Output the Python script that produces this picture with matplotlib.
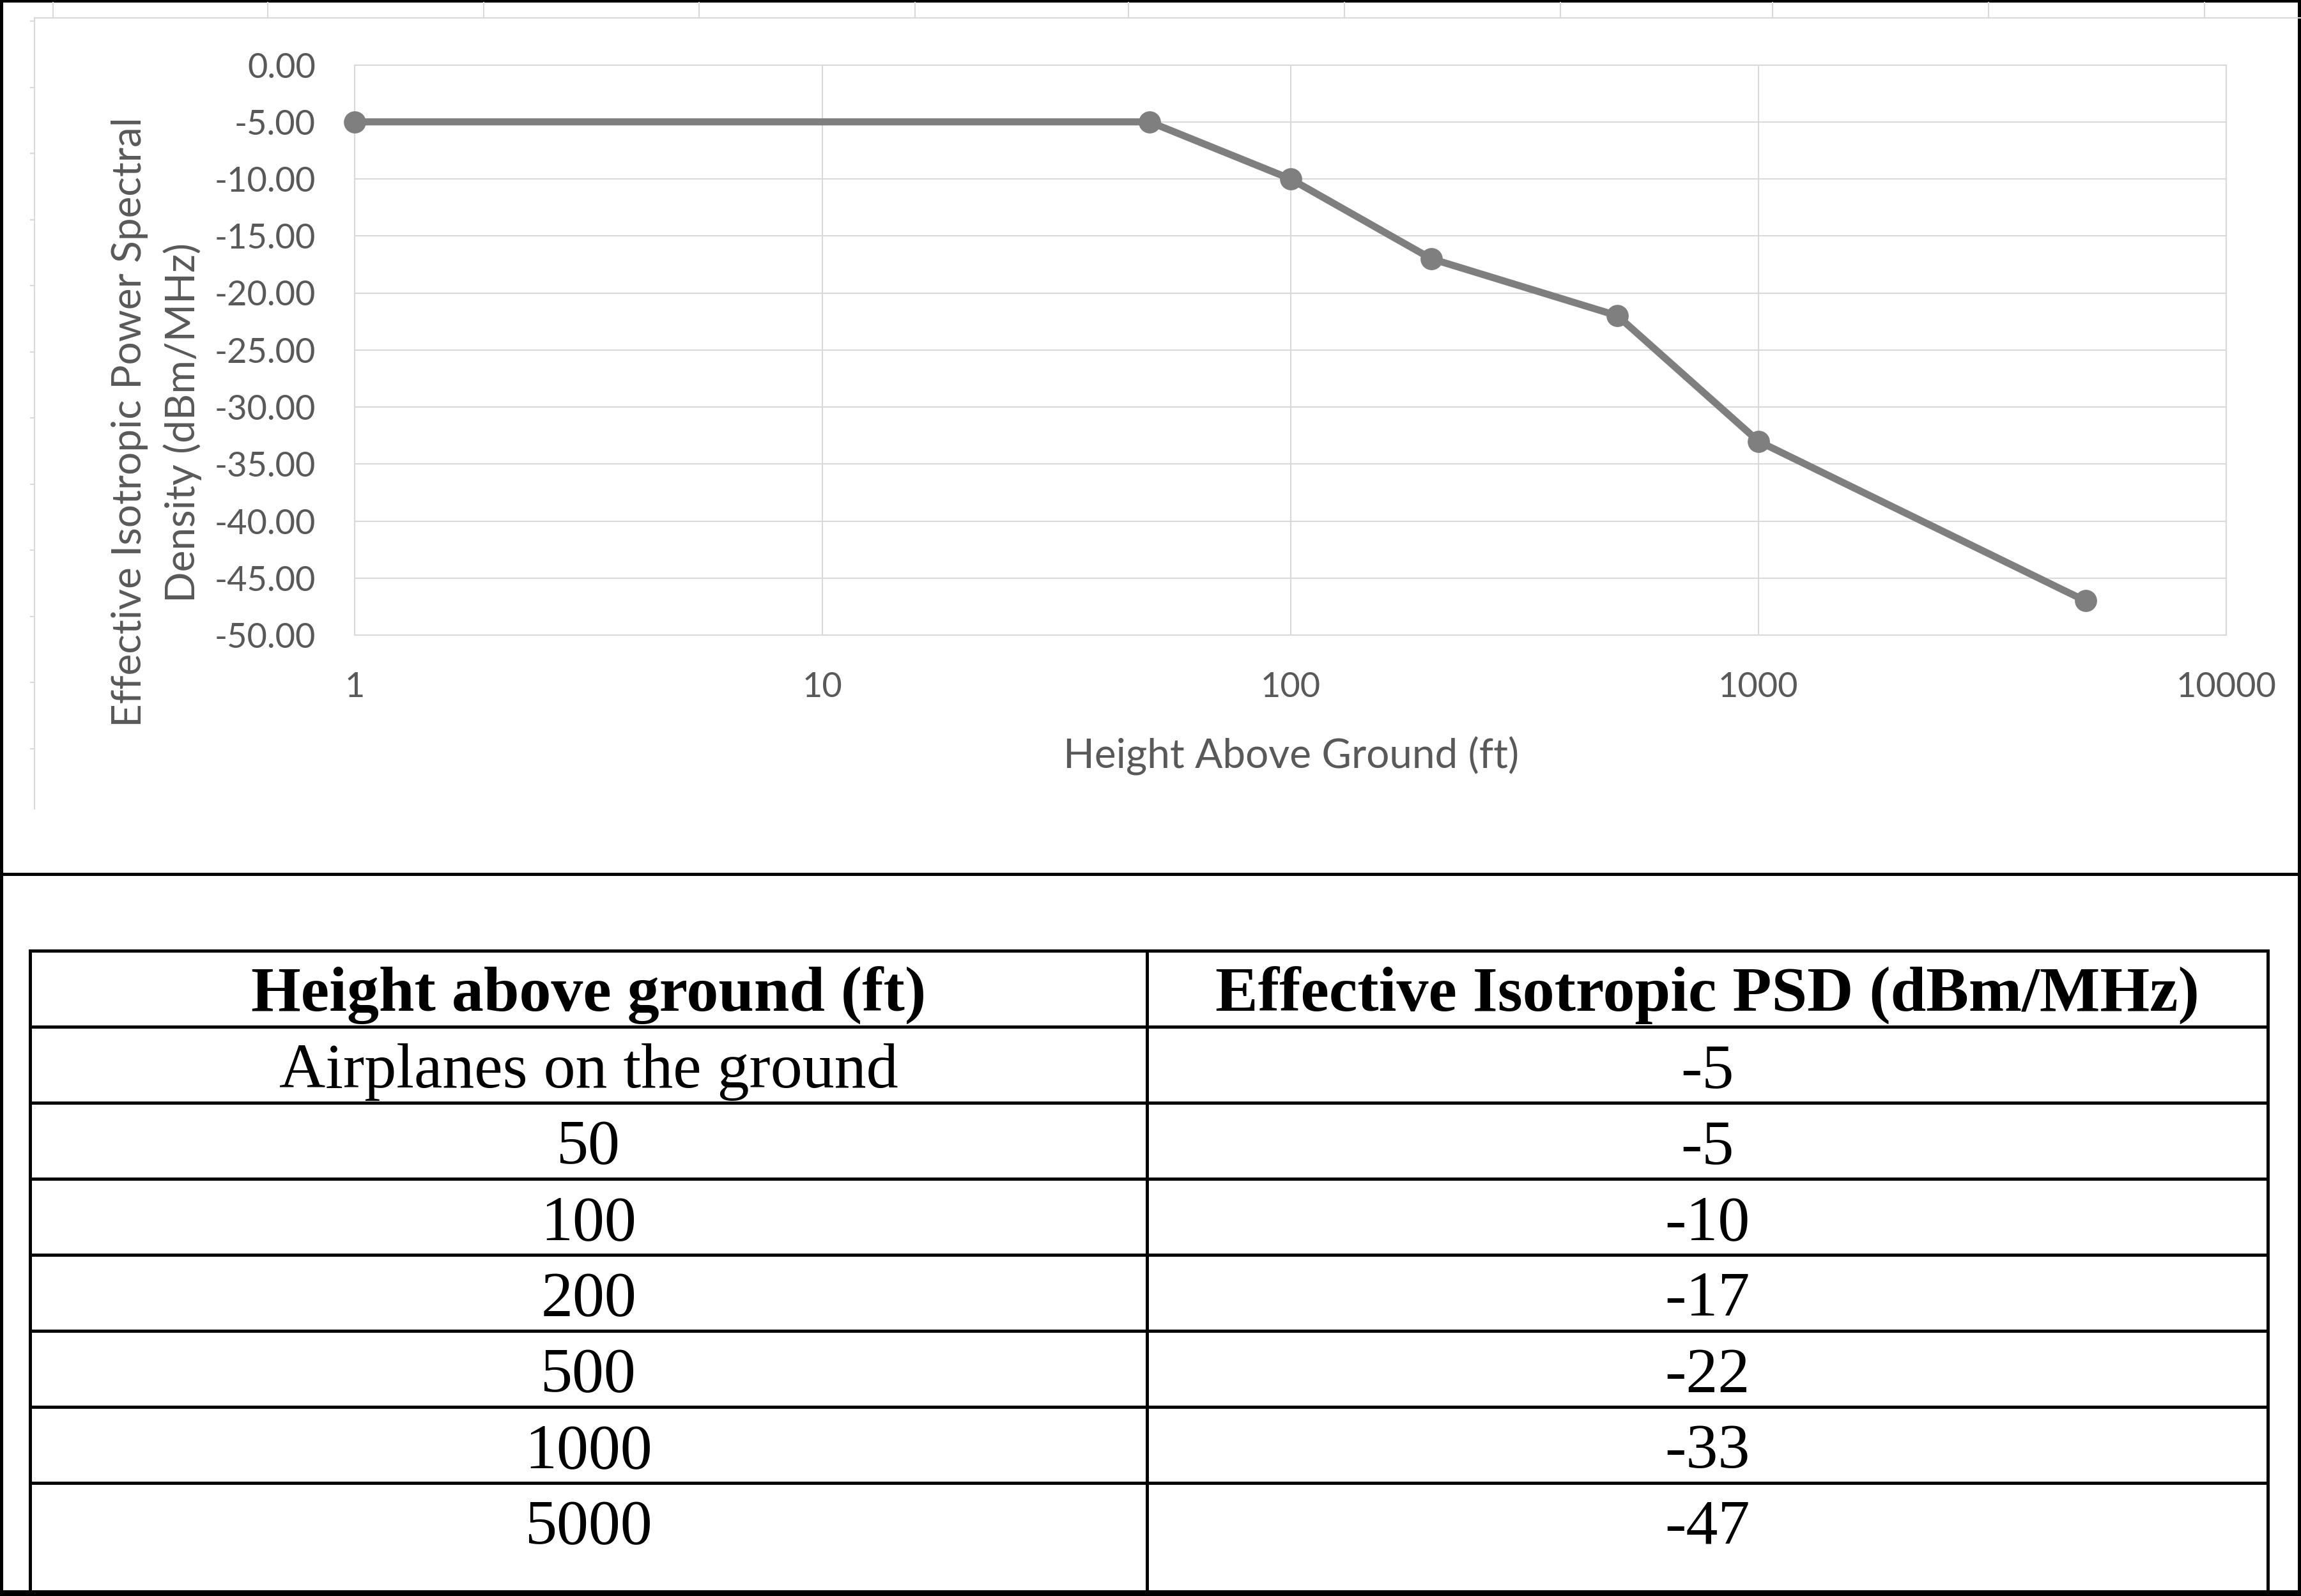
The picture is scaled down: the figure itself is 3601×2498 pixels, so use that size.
import matplotlib.pyplot as plt
from matplotlib.patches import Rectangle
from matplotlib.ticker import NullLocator

# data
heights_ft = [1, 50, 100, 200, 500, 1000, 5000]
psd_dbm = [-5, -5, -10, -17, -22, -33, -47]
row_labels = ["Airplanes on the ground", "50", "100", "200", "500", "1000", "5000"]
x_ticks = [1, 10, 100, 1000, 10000]
y_ticks = [0, -5, -10, -15, -20, -25, -30, -35, -40, -45, -50]
col_headers = ["Height above ground (ft)", "Effective Isotropic PSD (dBm/MHz)"]

W, H = 3601, 2498
GREY_TXT = '#595959'
GRID = '#d9d9d9'

fig = plt.figure(figsize=(W / 100, H / 100), dpi=100)

# overlay in pixel coords for the frame, table and text
ov = fig.add_axes([0, 0, 1, 1])
ov.set_xlim(0, W)
ov.set_ylim(H, 0)
ov.axis('off')


def box(x0, y0, x1, y1, color='black'):
    ov.add_patch(Rectangle((x0, y0), x1 - x0, y1 - y0, color=color, lw=0))


# outer frame and separator
box(0, 0, W, 4)
box(0, 0, 5, H)
box(W - 5, 0, W, H)
box(0, H - 9, W, H)
box(0, 1366, W, 1371)

# chart area border (only top and left visible) + sheet grid stubs
ov.plot([54, W], [28, 28], color=GRID, lw=1.5)
ov.plot([54, 54], [28, 1266], color=GRID, lw=1.5)
for cx in [83, 419, 757, 1094, 1432, 1766, 2104, 2442, 2774, 3112, 3450]:
    ov.plot([cx, cx], [4, 28], color=GRID, lw=1.5)
for i in range(12):
    ry = 33 + i * 103.5
    ov.plot([48, 54], [ry, ry], color=GRID, lw=1.5)

# chart
px_l, px_r, px_t, px_b = 555, 3484, 101.5, 994
ax = fig.add_axes([px_l / W, 1 - px_b / H, (px_r - px_l) / W, (px_b - px_t) / H])
ax.set_xscale('log')
ax.set_xlim(1, 10000)
ax.set_ylim(-50, 0)
ax.plot(heights_ft, psd_dbm, color='#7f7f7f', lw=8, marker='o', ms=24,
        zorder=3, clip_on=False)
ax.set_xticks(x_ticks)
ax.set_xticklabels([str(v) for v in x_ticks])
ax.xaxis.set_minor_locator(NullLocator())
ax.set_yticks(y_ticks)
ax.set_yticklabels(['{:.2f}'.format(v) for v in y_ticks])
ax.grid(True, color=GRID, lw=1.5)
ax.set_axisbelow(True)
for s in ax.spines.values():
    s.set_color(GRID)
    s.set_linewidth(1.5)
ax.tick_params(axis='both', length=0, labelsize=39, labelcolor=GREY_TXT)
ax.tick_params(axis='y', pad=44)
ax.tick_params(axis='x', pad=41)
for lab in ax.get_xticklabels() + ax.get_yticklabels():
    lab.set_family('Lato')

ov.text(245, 661, "Effective Isotropic Power Spectral\nDensity (dBm/MHz)",
        rotation=90, ha='center', va='center', fontsize=46, color=GREY_TXT,
        family='Lato', linespacing=1.45)
ov.text(2021, 1183, "Height Above Ground (ft)", ha='center', va='center',
        fontsize=46, color=GREY_TXT, family='Lato')

# table
t_left, t_mid, t_right = 47.5, 1795, 3549.5
t_top, row_h = 1488.5, 119
n_rows = len(row_labels) + 1
box(t_left - 2.5, t_top - 2.5, t_left + 2.5, H)
box(t_right - 2.5, t_top - 2.5, t_right + 2.5, H)
box(t_mid - 2.5, t_top - 2.5, t_mid + 2.5, H)
for k in range(n_rows):
    yk = t_top + k * row_h
    box(t_left - 2.5, yk - 2.5, t_right + 2.5, yk + 2.5)

c1 = (t_left + t_mid) / 2
c2 = (t_mid + t_right) / 2
base = t_top + row_h / 2 + 35
ov.text(c1, base, col_headers[0], ha='center', va='baseline', fontsize=72,
        family='Liberation Serif', fontweight='bold')
ov.text(c2, base, col_headers[1], ha='center', va='baseline', fontsize=72,
        family='Liberation Serif', fontweight='bold')
for i, (lab, val) in enumerate(zip(row_labels, psd_dbm)):
    yb = base + (i + 1) * row_h
    ov.text(c1, yb, lab, ha='center', va='baseline', fontsize=72,
            family='Liberation Serif')
    ov.text(c2, yb, str(val), ha='center', va='baseline', fontsize=72,
            family='Liberation Serif')

fig.savefig('out.png', dpi=100, facecolor='white')
